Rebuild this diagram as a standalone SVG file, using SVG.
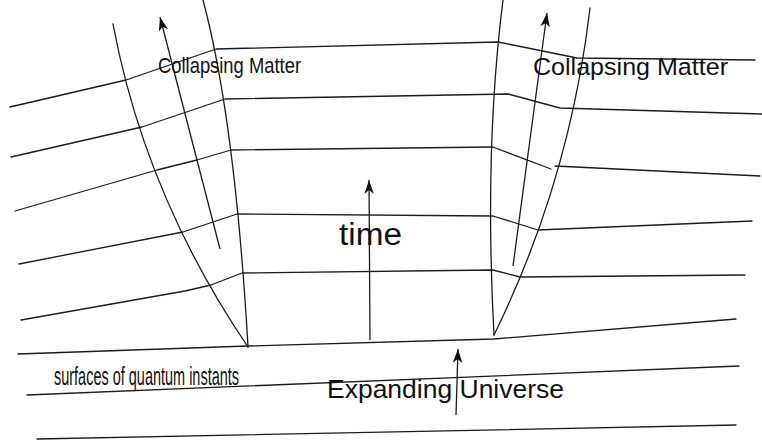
<svg xmlns="http://www.w3.org/2000/svg" width="762" height="444" viewBox="0 0 762 444">
<style>
.ln{fill:none;stroke:#1c1c1c;stroke-width:1.3;stroke-linejoin:round;stroke-linecap:round}
.ar{fill:none;stroke:#1c1c1c;stroke-width:1.3;marker-end:url(#ah)}
.tx{font-family:"Liberation Sans",Arial,sans-serif;fill:#111}
</style>
<defs>
<marker id="ah" markerWidth="16" markerHeight="12" refX="14" refY="6" orient="auto" markerUnits="userSpaceOnUse">
<path d="M0,1.2 L14,6 L0,10.8 L4,6 Z" fill="#111"/>
</marker>
</defs>
<rect width="762" height="444" fill="#fff"/>
<g id="surfaces">
<path class="ln" d="M10,107 L126,80 L216,49 L498,42 L577,58 L755,60"/>
<path class="ln" d="M11,157 L142,127 L225,99 L508,94 L560,108 L762,114"/>
<path class="ln" d="M15,211 L157,170 L197,160 L231,150 L493,147 L551,169"/>
<path class="ln" d="M555,166 L760,176"/>
<path class="ln" d="M19,264 L183,232 L237,214 L493,216 L538,230 L752,221"/>
<path class="ln" d="M21,320 L185,291 L211,285 L242,273 L493,270 L520,277 L745,275"/>
<path class="ln" d="M18,354 L248,346 L494,339 L736,319"/>
<path class="ln" d="M27,395 L739,366"/>
<path class="ln" d="M37,439 L736,425"/>
</g>
<g id="worldlines">
<path class="ln" d="M113,24 Q145,195 248,347"/>
<path class="ln" d="M203,0 Q235,120 248,347"/>
<path class="ln" d="M503,0 Q484,150 494,335"/>
<path class="ln" d="M590,8 Q570,180 494,335"/>
</g>
<g id="connectors">
<path class="ar" d="M220,249 L160,17"/>
<path class="ar" d="M513,266 L547,13"/>
<path class="ar" d="M370,340 L369,180"/>
<path class="ar" d="M456,415 L458,349"/>
</g>
<g id="labels">
<text id="collapsing-left" class="tx" x="158" y="72.5" font-size="22.5" textLength="143" lengthAdjust="spacingAndGlyphs">Collapsing Matter</text>
<text id="collapsing-right" class="tx" x="533" y="74.5" font-size="24.5" textLength="195" lengthAdjust="spacingAndGlyphs">Collapsing Matter</text>
<text id="time" class="tx" x="339" y="245" font-size="31" textLength="63" lengthAdjust="spacingAndGlyphs">time</text>
<text id="surfaces-label" class="tx" x="54" y="385" font-size="25.5" textLength="185" lengthAdjust="spacingAndGlyphs">surfaces of quantum  instants</text>
<text id="expanding" class="tx" x="327" y="398" font-size="25" textLength="237" lengthAdjust="spacingAndGlyphs">Expanding Universe</text>
</g>
</svg>
